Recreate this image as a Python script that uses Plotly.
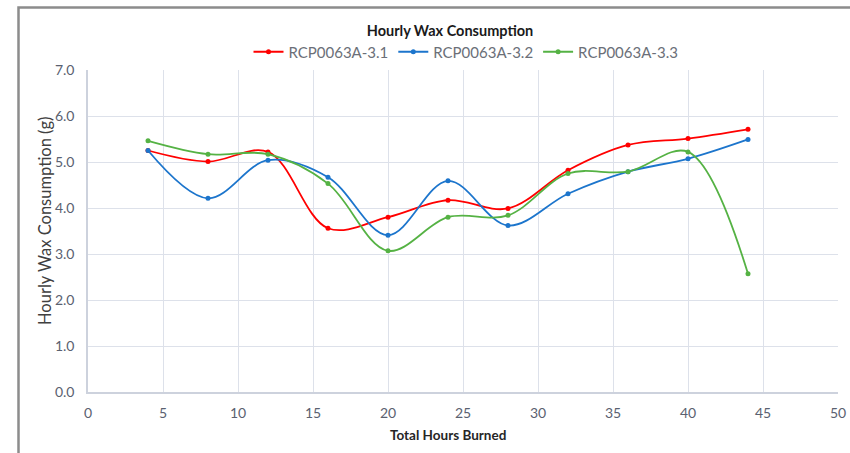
import plotly.graph_objects as go

hours = [4, 8, 12, 16, 20, 24, 28, 32, 36, 40, 44]
series_names = ["RCP0063A-3.1", "RCP0063A-3.2", "RCP0063A-3.3"]
s31 = [5.25, 5.01, 5.22, 3.56, 3.80, 4.17, 3.99, 4.82, 5.37, 5.51, 5.71]
s32 = [5.25, 4.21, 5.04, 4.67, 3.41, 4.59, 3.62, 4.31, 4.79, 5.07, 5.49]
s33 = [5.46, 5.17, 5.17, 4.53, 3.07, 3.80, 3.84, 4.75, 4.79, 5.22, 2.57]
x_ticks = [0, 5, 10, 15, 20, 25, 30, 35, 40, 45, 50]
y_ticks = [0, 1, 2, 3, 4, 5, 6, 7]

colors = ["#FF0000", "#1C75CC", "#55B244"]
FONT = "Lato, 'Open Sans', sans-serif"

fig = go.Figure()
for name, vals, c in zip(series_names, [s31, s32, s33], colors):
    fig.add_trace(go.Scatter(
        x=hours, y=vals, name=name, mode="lines+markers",
        line=dict(color=c, width=1.8, shape="spline", smoothing=1.0),
        marker=dict(color=c, size=5),
    ))

W, H = 850, 453
L, T = 88, 70
pw, ph = 750, 322
R = W - L - pw
B = H - T - ph

def px_x(p):
    return (p - L) / pw

def px_y(p):
    return (H - B - p) / ph

fig.update_layout(
    width=W, height=H,
    margin=dict(l=L, r=R, t=T, b=B, autoexpand=False),
    paper_bgcolor="white", plot_bgcolor="white",
    font=dict(family=FONT, color="#595959"),
    title=dict(text="<b>Hourly Wax Consumption</b>", x=px_x(450), xref="paper",
               xanchor="center", y=1 - 31 / H, yanchor="middle",
               font=dict(size=14.5, color="#1a1a1a", family=FONT)),
    legend=dict(orientation="h", x=px_x(466), xanchor="center", y=px_y(52), yanchor="middle",
                font=dict(size=15, color="#6b6f78"), bgcolor="rgba(0,0,0,0)",
                itemwidth=30, tracegroupgap=0),
    xaxis=dict(range=[0, 50], tickvals=x_ticks, ticktext=[str(v) for v in x_ticks],
               showgrid=True, gridcolor="#DDE1EA", gridwidth=1,
               showline=True, linecolor="#CDD2DD", linewidth=1.5, mirror=False,
               zeroline=False, ticks="outside", ticklen=7, tickcolor="rgba(0,0,0,0)",
               tickfont=dict(size=14, color="#5A6170")),
    yaxis=dict(range=[0, 7], tickvals=y_ticks, ticktext=[f"{v:.1f}" for v in y_ticks],
               showgrid=True, gridcolor="#DDE1EA", gridwidth=1,
               showline=True, linecolor="#CDD2DD", linewidth=1.5,
               zeroline=False, ticks="outside", ticklen=9, tickcolor="rgba(0,0,0,0)",
               tickfont=dict(size=14, color="#5A6170")),
    annotations=[
        dict(text="<b>Total Hours Burned</b>", xref="paper", yref="paper",
             x=px_x(448), y=px_y(435), xanchor="center", yanchor="middle",
             showarrow=False, font=dict(size=13.5, color="#262626")),
        dict(text="Hourly Wax Consumption (g)", xref="paper", yref="paper",
             x=px_x(45), y=px_y(221), xanchor="center", yanchor="middle",
             textangle=-90, showarrow=False, font=dict(size=16.5, color="#404040")),
    ],
    shapes=[
        dict(type="rect", xref="paper", yref="paper",
             x0=px_x(18.5), x1=px_x(880), y0=px_y(470), y1=px_y(7.5),
             line=dict(color="#8C8C8C", width=2.5), fillcolor="rgba(0,0,0,0)",
             layer="above"),
    ],
)

fig.write_html("out.html", config={"displayModeBar": False},
               post_script="document.body.style.margin='0';document.body.style.overflow='hidden';")
